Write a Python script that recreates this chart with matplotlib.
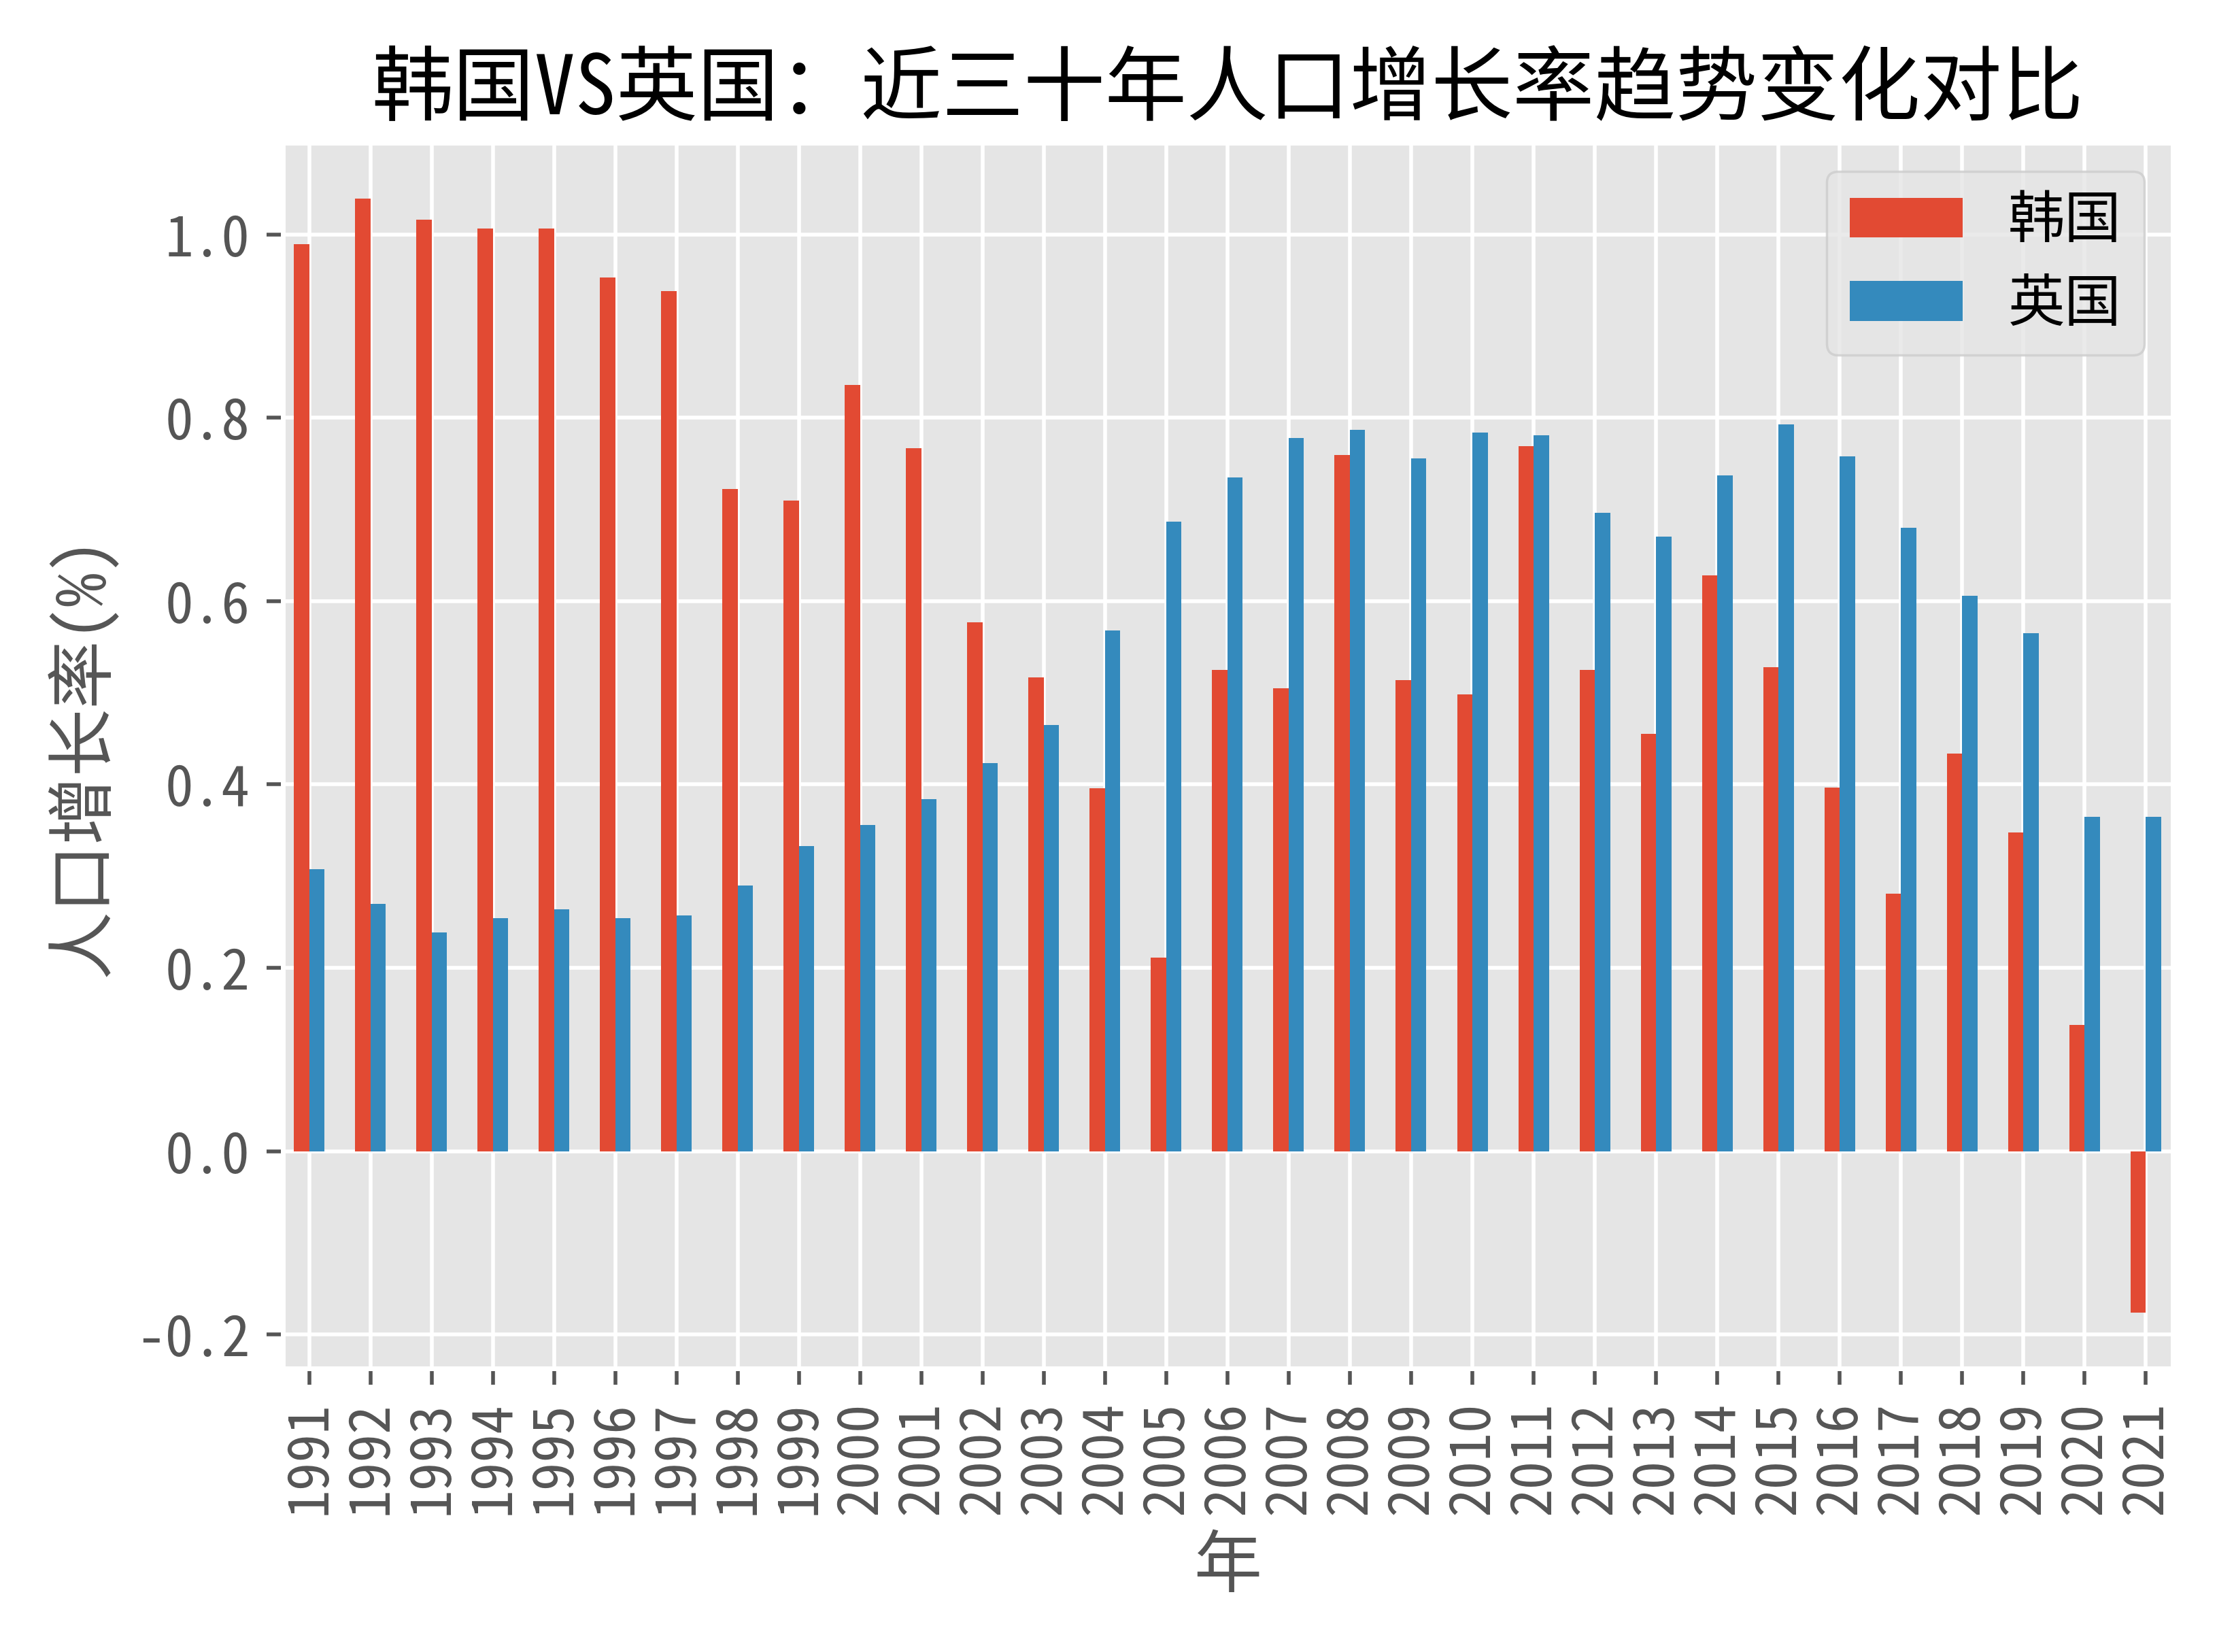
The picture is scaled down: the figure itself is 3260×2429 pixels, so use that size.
import matplotlib
matplotlib.use("Agg")
import matplotlib.pyplot as plt
import numpy as np

years = list(range(1991, 2022))
korea = [0.989, 1.039, 1.016, 1.006, 1.006, 0.953, 0.938, 0.722, 0.710, 0.836,
         0.767, 0.577, 0.517, 0.396, 0.211, 0.525, 0.505, 0.759, 0.514, 0.498,
         0.769, 0.525, 0.455, 0.628, 0.528, 0.397, 0.281, 0.434, 0.348, 0.138,
         -0.176]
uk = [0.308, 0.270, 0.239, 0.254, 0.264, 0.254, 0.257, 0.290, 0.333, 0.356,
      0.384, 0.423, 0.465, 0.568, 0.687, 0.735, 0.778, 0.787, 0.756, 0.784,
      0.781, 0.696, 0.670, 0.737, 0.793, 0.758, 0.680, 0.606, 0.565, 0.365,
      0.365]

plt.style.use("ggplot")
plt.rcParams["font.family"] = ["Noto Sans Mono CJK SC", "Noto Sans CJK SC", "DejaVu Sans"]
plt.rcParams["font.size"] = 12
plt.rcParams["axes.unicode_minus"] = False

fig, ax = plt.subplots(figsize=(6.52, 4.858), dpi=500)
fig.subplots_adjust(left=0.1276, right=0.980, top=0.9135, bottom=0.1717)

x = np.arange(len(years))
w = 0.25
ax.bar(x - w / 2, korea, width=w, color="#E24A33", label="韩国")
ax.bar(x + w / 2, uk, width=w, color="#348ABD", label="英国")

ax.set_xticks(x)
ax.set_xticklabels([str(y) for y in years], rotation=90)
ax.set_xlim(-0.43, len(years) - 1 + 0.44)
ax.set_xlabel("年")
ax.set_ylabel("人口增长率(%)")
ax.set_title("韩国VS英国：近三十年人口增长率趋势变化对比")
ax.legend(loc="upper right")

fig.savefig("out.png", dpi=500, facecolor="white")
